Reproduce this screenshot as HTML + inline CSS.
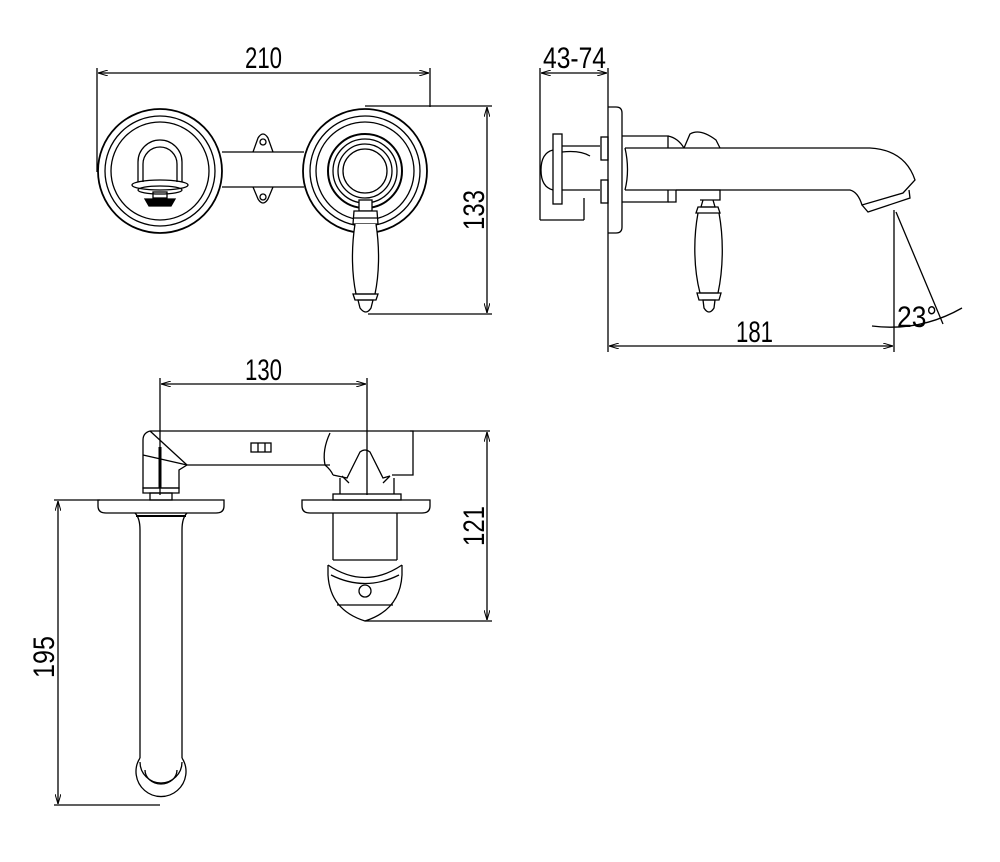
<!DOCTYPE html>
<html><head><meta charset="utf-8"><style>
html,body{margin:0;padding:0;background:#fff;}
svg{display:block}
text{font-family:"Liberation Sans Narrow","Liberation Sans",sans-serif;font-size:30px;fill:#000}
</style></head><body>
<svg width="1000" height="862" viewBox="0 0 1000 862" xmlns="http://www.w3.org/2000/svg">
<defs>
<marker id="a" viewBox="0 0 10 6" refX="10" refY="3" markerWidth="10" markerHeight="6" orient="auto-start-reverse" markerUnits="userSpaceOnUse"><path d="M0,0L10,3L0,6" fill="none" stroke="#000" stroke-width="1"/></marker>
</defs>
<g fill="none" stroke="#000" stroke-width="1.3">
<line x1="97" y1="68" x2="97" y2="172"/>
<line x1="430" y1="68" x2="430" y2="107"/>
<line x1="98" y1="73" x2="429" y2="73" marker-start="url(#a)" marker-end="url(#a)"/>
<line x1="365" y1="106" x2="492" y2="106"/>
<line x1="368" y1="314" x2="492" y2="314"/>
<line x1="487" y1="107" x2="487" y2="313" marker-start="url(#a)" marker-end="url(#a)"/>
<circle cx="160" cy="171" r="62" stroke-width="1.8"/>
<circle cx="160" cy="171" r="55"/>
<circle cx="160" cy="171" r="49"/>
<path d="M138,182 L138,162 A22,22 0 0 1 182,162 L182,182"/>
<path d="M143,182 L143,164 A17,17 0 0 1 177,164 L177,182"/>
<ellipse cx="160" cy="185" rx="28" ry="5"/>
<ellipse cx="160" cy="190" rx="22" ry="4"/>
<rect x="153" y="192" width="14" height="6"/>
<path d="M145,199 L175,199 L171,206 L149,206 Z" fill="#000"/>
<line x1="222" y1="152" x2="304" y2="152"/>
<line x1="222" y1="187" x2="304" y2="187"/>
<path d="M253,152 L258,138 Q263,130 268,138 L273,152"/>
<circle cx="263" cy="142" r="3"/>
<path d="M253,187 L258,199 Q263,207 268,199 L273,187"/>
<circle cx="263" cy="197" r="3"/>
<circle cx="365" cy="171" r="62" stroke-width="1.8"/>
<circle cx="365" cy="171" r="55"/>
<circle cx="365" cy="171" r="49"/>
<circle cx="365" cy="171" r="37" stroke-width="2"/>
<circle cx="365" cy="171" r="32"/>
<circle cx="365" cy="171" r="27"/>
<circle cx="365" cy="171" r="22"/>
<rect x="359" y="200" width="13" height="11" fill="#fff"/>
<path d="M354,211 L377,211 L378,224 L353,224 Z" fill="#fff"/>
<line x1="353" y1="218" x2="378" y2="218"/>
<path d="M355,224 C351,250 352,275 356,294 L375,294 C379,275 380,250 376,224" fill="#fff"/>
<path d="M353,294 L378,294 L376,300 L355,300 Z"/>
<path d="M358,300 L373,300 L371,308 Q366,316 360,308 Z"/>
<text x="245" y="68" textLength="37" lengthAdjust="spacingAndGlyphs" stroke="none">210</text>
<text transform="translate(484,230) rotate(-90)" textLength="40" lengthAdjust="spacingAndGlyphs" stroke="none">133</text>

<line x1="540" y1="68" x2="540" y2="220"/>
<line x1="540" y1="220" x2="584" y2="220"/>
<line x1="584" y1="198" x2="584" y2="220"/>
<line x1="608" y1="68" x2="608" y2="352"/>
<line x1="541" y1="73" x2="607" y2="73" marker-start="url(#a)" marker-end="url(#a)"/>
<text x="543" y="68" textLength="63" lengthAdjust="spacingAndGlyphs" stroke="none">43-74</text>
<path d="M608,107 L616,107 Q622,107 622,113 L622,227 Q622,233 616,233 L608,233"/>
<rect x="601" y="137" width="7" height="23"/>
<rect x="601" y="180" width="7" height="23"/>
<rect x="553" y="134" width="9" height="70"/>
<path d="M562,146 L600,146 M562,190 L600,190"/>
<path d="M553,150 Q541,153 541,170 Q541,187 553,190"/>
<path d="M562,152 Q580,150 590,156"/>
<path d="M622,136 L668,136 L668,148 M622,202 L668,202 L668,190"/>
<path d="M668,136 Q678,138 684,148 M668,202 L676,202 L676,190"/>
<path d="M684,148 L690,134 Q700,128 716,140 L720,148"/>
<path d="M625,148 L870,148 Q905,150 915,180 L903,193 L862,205 Q858,192 850,190 L625,190"/>
<path d="M625,148 Q630,170 625,190"/>
<path d="M862,205 L868,212 L910,198 L909,190"/>
<path d="M676,190 L720,190 L720,200 L700,200 M703,200 L713,200 L715,207 L701,207 Z"/>
<path d="M698,207 L718,207 L720,213 L696,213 Z"/>
<path d="M698,213 C693,240 694,270 700,293 L718,293 C723,270 724,240 719,213"/>
<path d="M697,293 L721,293 L719,300 L699,300 Z"/>
<path d="M703,300 L715,300 L714,308 Q709,316 704,308 Z"/>
<line x1="894" y1="210" x2="894" y2="352"/>
<line x1="609" y1="346" x2="893" y2="346" marker-start="url(#a)" marker-end="url(#a)"/>
<text x="736" y="342" textLength="37" lengthAdjust="spacingAndGlyphs" stroke="none">181</text>
<line x1="896" y1="212" x2="943" y2="324"/>
<path d="M872,326 Q920,332 962,308"/>
<text x="897" y="327" textLength="40" lengthAdjust="spacingAndGlyphs" stroke="none">23°</text>

<line x1="160" y1="378" x2="160" y2="495"/>
<line x1="367" y1="378" x2="367" y2="495"/>
<line x1="161" y1="384" x2="366" y2="384" marker-start="url(#a)" marker-end="url(#a)"/>
<text x="245" y="380" textLength="37" lengthAdjust="spacingAndGlyphs" stroke="none">130</text>
<path d="M150,431 L490,431"/>
<path d="M150,431 Q143,433 143,440 L143,488 L179,488 L179,470 L187,465 L330,465"/>
<path d="M150,431 L187,465"/>
<line x1="143" y1="455" x2="187" y2="465"/>
<line x1="160" y1="447" x2="160" y2="488" stroke-width="3"/>
<path d="M143,488 L179,488 L179,493 L143,493 Z"/>
<rect x="150" y="493" width="22" height="7"/>
<rect x="251" y="443" width="20" height="9"/>
<line x1="258" y1="443" x2="258" y2="452"/><line x1="265" y1="443" x2="265" y2="452"/>
<path d="M330,433 Q322,450 325,465 Q331,470 333,475"/>
<path d="M410,431 L413,431 L413,475 L392,475"/>
<path d="M333,475 L347,478 L360,452 Q365,448 370,452 L383,478 L390,476"/>
<path d="M342,476 L349,483 M390,476 L383,483"/>
<path d="M340,478 L340,494 M394,478 L394,494"/>
<rect x="333" y="494" width="68" height="6"/>
<path d="M98,500 L224,500 L224,506 Q224,513 216,513 L106,513 Q98,513 98,506 Z"/>
<path d="M302,500 L430,500 L430,506 Q430,513 422,513 L310,513 Q302,513 302,506 Z"/>
<path d="M135,513 Q140,518 140,530 L140,758 M187,513 Q182,518 182,530 L182,758"/>
<line x1="136" y1="516" x2="186" y2="516" stroke-width="2"/>
<path d="M140,758 A25,25 0 1 0 182,758"/>
<path d="M140,762 A21,21 0 1 0 182,762"/>
<path d="M145,770 A16,14 0 0 0 177,770"/>
<path d="M333,513 L333,560 M397,513 L397,560"/>
<line x1="333" y1="560" x2="397" y2="560"/>
<path d="M328,565 L328,575 Q330,610 365,621 Q400,610 402,575 L402,565"/>
<path d="M328,565 Q365,590 402,565"/>
<path d="M331,575 Q365,592 399,575"/>
<circle cx="365" cy="591" r="6"/>
<path d="M337,605 L393,605"/>
<line x1="365" y1="621" x2="492" y2="621"/>
<line x1="487" y1="432" x2="487" y2="620" marker-start="url(#a)" marker-end="url(#a)"/>
<text transform="translate(484,546) rotate(-90)" textLength="40" lengthAdjust="spacingAndGlyphs" stroke="none">121</text>
<line x1="54" y1="500" x2="100" y2="500"/>
<line x1="54" y1="805" x2="160" y2="805"/>
<line x1="58" y1="501" x2="58" y2="804" marker-start="url(#a)" marker-end="url(#a)"/>
<text transform="translate(54,678) rotate(-90)" textLength="42" lengthAdjust="spacingAndGlyphs" stroke="none">195</text>
</g>
</svg>
</body></html>
